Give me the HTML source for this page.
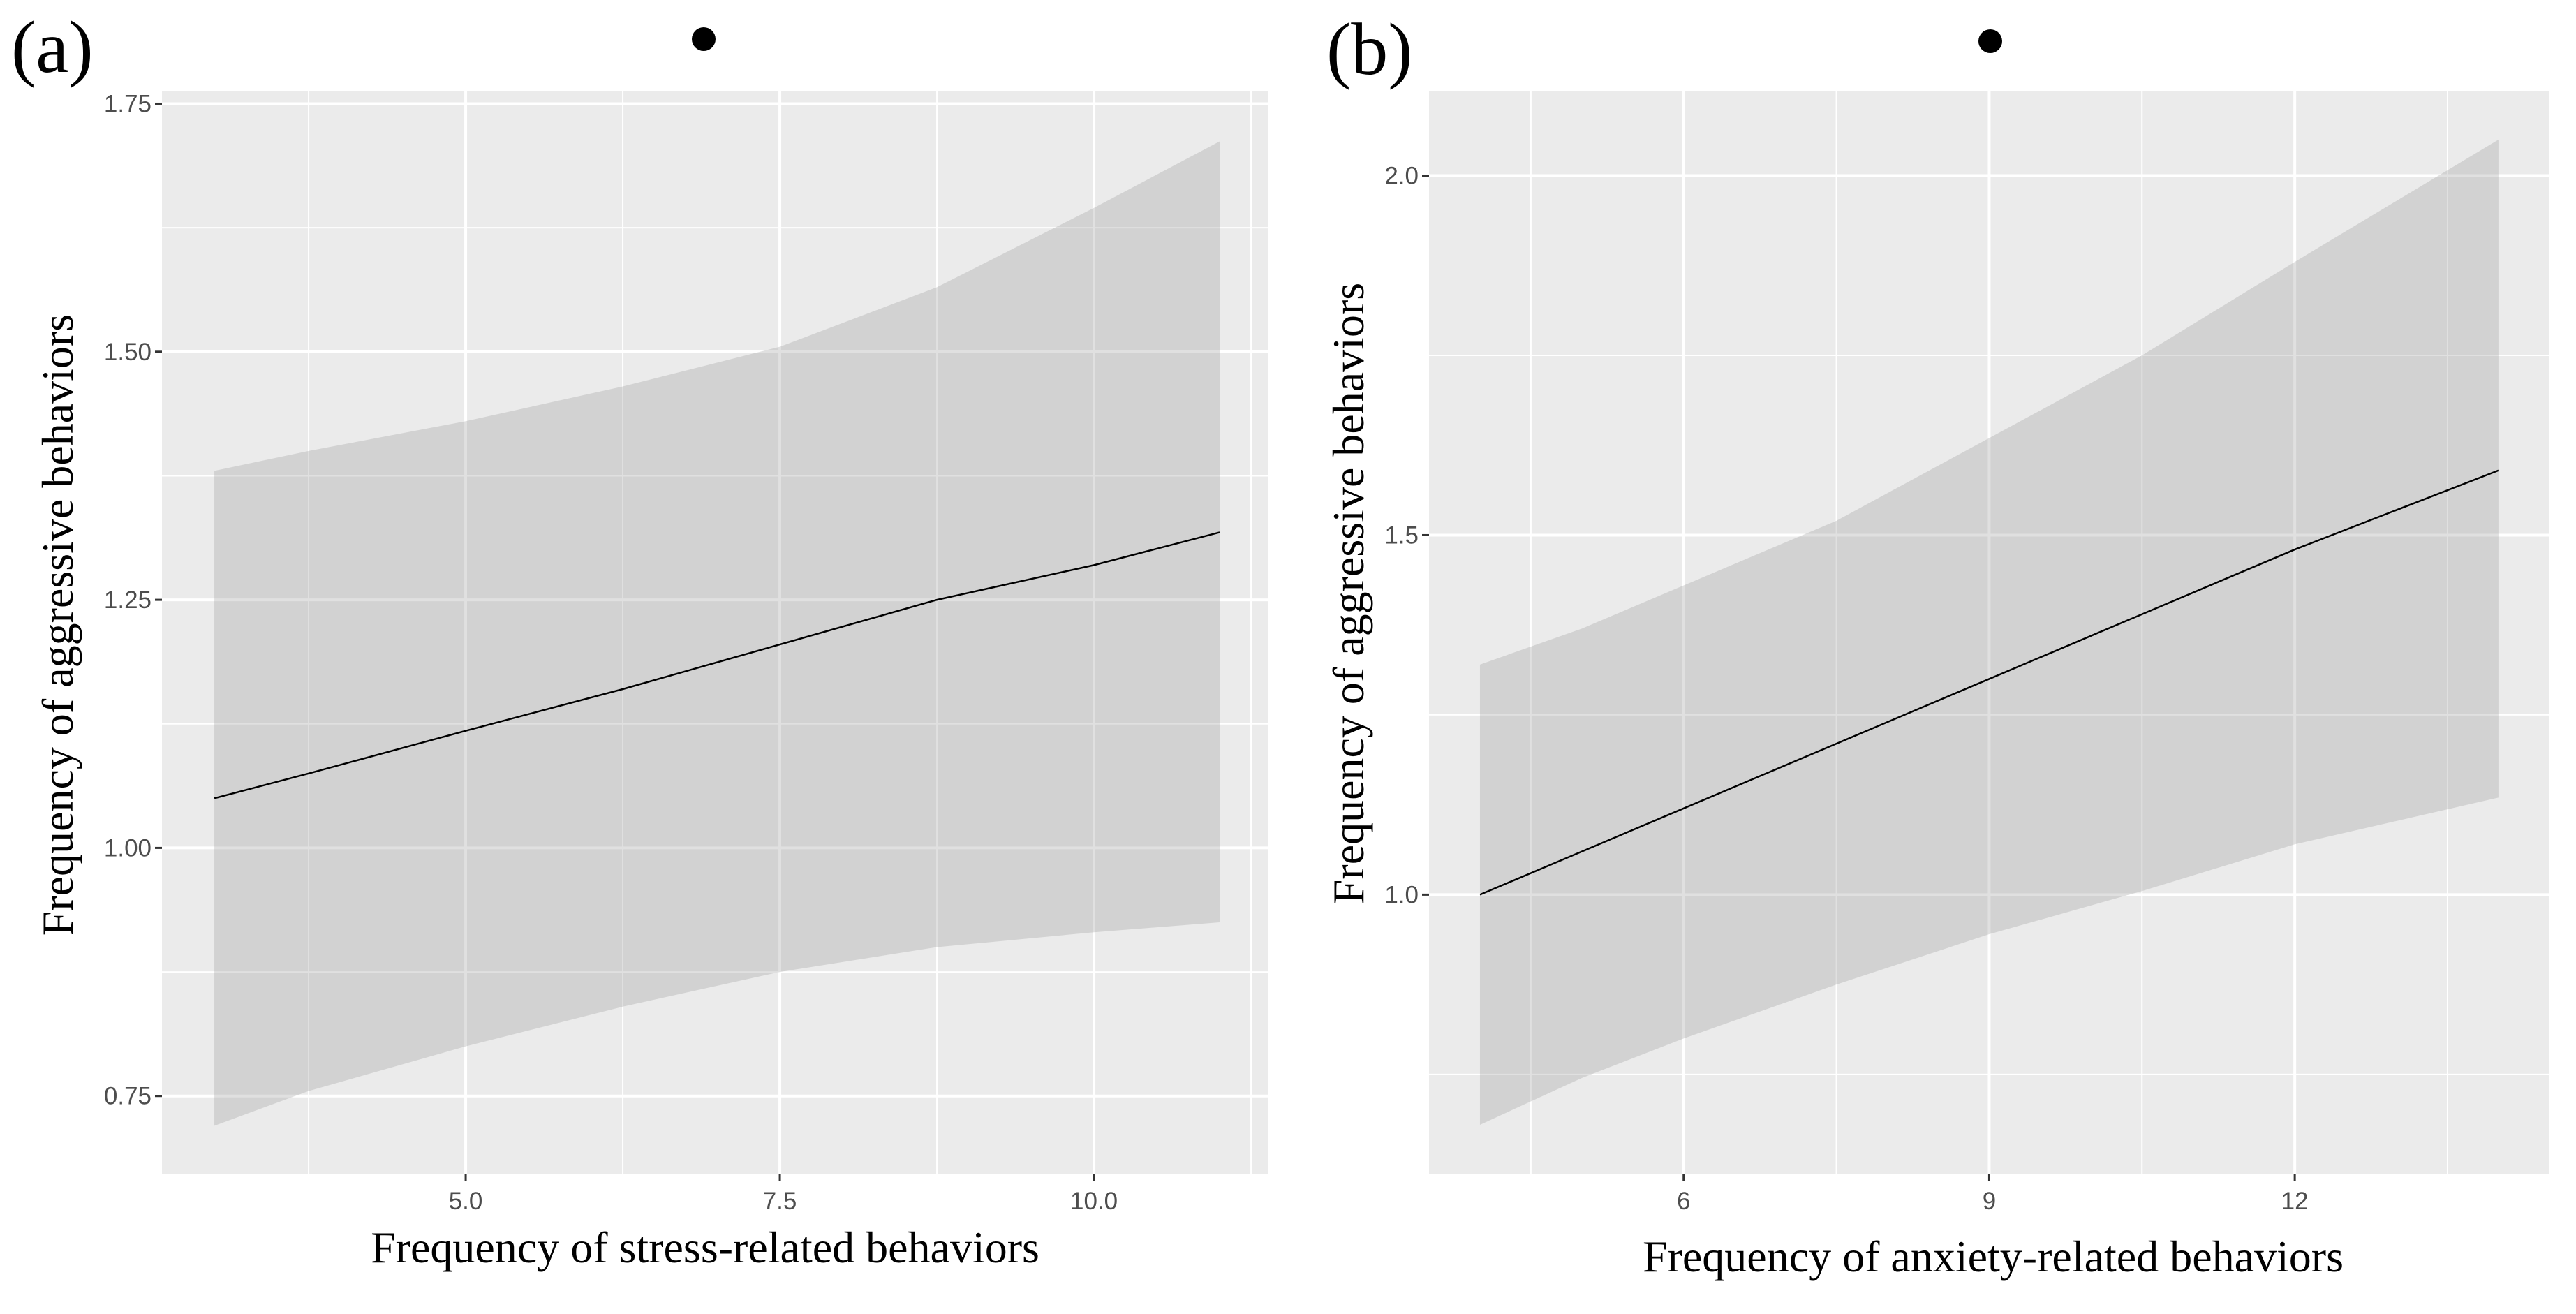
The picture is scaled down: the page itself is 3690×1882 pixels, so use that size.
<!DOCTYPE html>
<html><head><meta charset="utf-8"><style>
html,body{margin:0;padding:0;background:#fff;width:3690px;height:1882px;overflow:hidden}
svg{display:block}
.tick{font-family:"Liberation Sans",sans-serif;font-size:35px;fill:#4d4d4d}
.title{font-family:"Liberation Serif",serif;font-size:64px;fill:#000}
.lab{font-family:"Liberation Serif",serif;font-size:106px;fill:#000}
</style></head><body>
<svg id="chart" width="3690" height="1882">
<text class="lab" x="16" y="103">(a)</text>
<text class="lab" x="1900" y="106">(b)</text>
<circle cx="1008" cy="56" r="17" fill="#000"/>
<circle cx="2851" cy="59" r="17" fill="#000"/>
<text class="title" x="1010" y="1808" text-anchor="middle">Frequency of stress-related behaviors</text>
<text class="title" x="2855" y="1821" text-anchor="middle">Frequency of anxiety-related behaviors</text>
<text class="title" transform="translate(104,895) rotate(-90)" text-anchor="middle">Frequency of aggressive behaviors</text>
<text class="title" transform="translate(1953,850) rotate(-90)" text-anchor="middle">Frequency of aggressive behaviors</text>
</svg>
<script>
// Panel A data
const aX = [3, 3.75, 5, 6.25, 7.5, 8.75, 10, 11];
const aFit = [1.05, 1.075, 1.118, 1.16, 1.205, 1.25, 1.285, 1.318];
const aUpper = [1.38, 1.40, 1.43, 1.465, 1.505, 1.565, 1.645, 1.712];
const aLower = [0.72, 0.755, 0.80, 0.84, 0.875, 0.90, 0.915, 0.925];
const aXTicks = [5, 7.5, 10];
const aXTickLabels = ["5.0", "7.5", "10.0"];
const aYTicks = [0.75, 1.0, 1.25, 1.5, 1.75];
const aYTickLabels = ["0.75", "1.00", "1.25", "1.50", "1.75"];
// Panel B data
const bX = [4, 5, 6, 7.5, 9, 10.5, 12, 14];
const bFit = [1.0, 1.06, 1.12, 1.21, 1.30, 1.39, 1.48, 1.59];
const bUpper = [1.32, 1.37, 1.43, 1.52, 1.635, 1.75, 1.88, 2.05];
const bLower = [0.68, 0.745, 0.80, 0.875, 0.945, 1.005, 1.07, 1.135];
const bXTicks = [6, 9, 12];
const bXTickLabels = ["6", "9", "12"];
const bYTicks = [1.0, 1.5, 2.0];
const bYTickLabels = ["1.0", "1.5", "2.0"];

const NS = "http://www.w3.org/2000/svg";
const svg = document.getElementById("chart");
function mk(t, attrs, parent) {
  const e = document.createElementNS(NS, t);
  for (const k in attrs) e.setAttribute(k, attrs[k]);
  (parent || svg).appendChild(e);
  return e;
}
function panel(id, L, R, T, B, x0, x1, y0, y1, xs, fit, up, lo, xt, xtl, yt, ytl, xMinor, yMinor) {
  const sx = v => L + (v - x0) / (x1 - x0) * (R - L);
  const sy = v => B - (v - y0) / (y1 - y0) * (B - T);
  const g = mk("g", {});
  
  
  const bg = mk("rect", {x: L, y: T, width: R - L, height: B - T, fill: "#ebebeb"}, g);
  
  
  xMinor.forEach(v => mk("line", {x1: sx(v), x2: sx(v), y1: T, y2: B, stroke: "#fff", "stroke-width": 2}, g));
  yMinor.forEach(v => mk("line", {x1: L, x2: R, y1: sy(v), y2: sy(v), stroke: "#fff", "stroke-width": 2}, g));
  xt.forEach((v, i) => {
    const gl = mk("line", {x1: sx(v), x2: sx(v), y1: T, y2: B, stroke: "#fff", "stroke-width": 4}, g);
    
    
    mk("line", {x1: sx(v), x2: sx(v), y1: B, y2: B + 10, stroke: "#333", "stroke-width": 3}, g);
    const t = mk("text", {x: sx(v), y: B + 50, "text-anchor": "middle", class: "tick"}, g);
    t.textContent = xtl[i];
    
    
  });
  yt.forEach((v, i) => {
    const gl = mk("line", {x1: L, x2: R, y1: sy(v), y2: sy(v), stroke: "#fff", "stroke-width": 4}, g);
    
    
    mk("line", {x1: L - 10, x2: L, y1: sy(v), y2: sy(v), stroke: "#333", "stroke-width": 3}, g);
    const t = mk("text", {x: L - 15, y: sy(v) + 12, "text-anchor": "end", class: "tick"}, g);
    t.textContent = ytl[i];
    
    
  });
  let d = "";
  xs.forEach((v, i) => d += (i ? "L" : "M") + sx(v) + "," + sy(up[i]));
  for (let i = xs.length - 1; i >= 0; i--) d += "L" + sx(xs[i]) + "," + sy(lo[i]);
  const band = mk("path", {d: d + "Z", fill: "#999", "fill-opacity": 0.3}, g);
  
  
  let ld = "";
  xs.forEach((v, i) => ld += (i ? "L" : "M") + sx(v) + "," + sy(fit[i]));
  const line = mk("path", {d: ld, fill: "none", stroke: "#000", "stroke-width": 2.5}, g);
  
  
}
panel("a", 232, 1816, 130, 1682, 2.583, 11.383, 0.671, 1.763,
  aX, aFit, aUpper, aLower, aXTicks, aXTickLabels, aYTicks, aYTickLabels, [3.75, 6.25, 8.75, 11.25], [0.875, 1.125, 1.375, 1.625]);
panel("b", 2047, 3651, 130, 1682, 3.5, 14.494, 0.611, 2.118,
  bX, bFit, bUpper, bLower, bXTicks, bXTickLabels, bYTicks, bYTickLabels, [4.5, 7.5, 10.5, 13.5], [0.75, 1.25, 1.75]);
</script>
</body></html>
